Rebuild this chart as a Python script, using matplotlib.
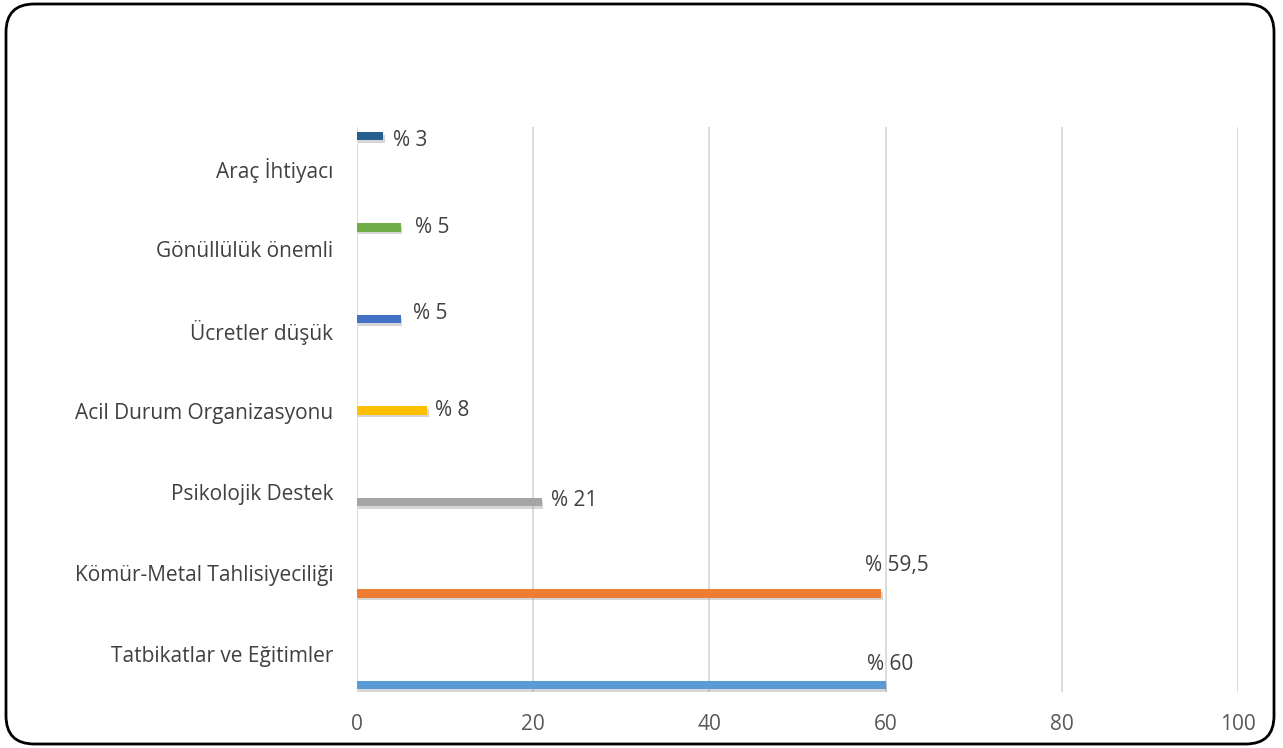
import numpy as np
import matplotlib.pyplot as plt
import matplotlib.patheffects as pe
from matplotlib.patches import FancyBboxPatch

# --- data (bottom to top) ---
categories = ["Tatbikatlar ve Eğitimler", "Kömür-Metal Tahlisiyeciliği", "Psikolojik Destek",
              "Acil Durum Organizasyonu", "Ücretler düşük", "Gönüllülük önemli", "Araç İhtiyacı"]
values = [60, 59.5, 21, 8, 5, 5, 3]
value_labels = ["% 60", "% 59,5", "% 21", "% 8", "% 5", "% 5", "% 3"]
bar_colors = ["#5B9BD5", "#ED7D31", "#A5A5A5", "#FFC000", "#4472C4", "#70AD47", "#255E91"]
x_ticks = [0, 20, 40, 60, 80, 100]

plt.rcParams['font.family'] = ['Open Sans', 'DejaVu Sans']

fig = plt.figure(figsize=(12.83, 7.48), dpi=100)

# rounded outer frame
frame = FancyBboxPatch((6 / 1283, 4 / 748), 1268 / 1283, 740 / 748,
                       boxstyle="round,pad=0,rounding_size=0.022",
                       transform=fig.transFigure, facecolor="none",
                       edgecolor="black", linewidth=2, mutation_aspect=1283 / 748, zorder=10)
fig.patches.append(frame)

ax = fig.add_axes([357 / 1283, 56 / 748, 881 / 1283, 565 / 748])
ax.set_facecolor("none")

pos = np.arange(len(categories))
shadow = [pe.SimplePatchShadow(offset=(1, -2), shadow_rgbFace="#8c8c8c", alpha=0.35), pe.Normal()]
bars = ax.barh(pos, values, height=0.09, color=bar_colors, zorder=3)
for b in bars:
    b.set_path_effects(shadow)

# label offsets (points) from the bar end, placed by hand
label_offsets = [(3.5, 15), (11.5, 20), (6.5, 1.4), (5.4, 0), (8.6, 3.6), (10, 0), (7, -3.6)]
for i, (v, lab) in enumerate(zip(values, value_labels)):
    dx, dy = label_offsets[i]
    ha = "center" if v > 50 else "left"
    ax.annotate(lab, (v, pos[i]), xytext=(dx, dy), textcoords="offset points",
                ha=ha, va="center", fontsize=15, color="#404040")

ax.set_xlim(0, 100)
ax.set_ylim(-7 / 91.5, 6 + 9 / 91.5)
ax.set_xticks(x_ticks)
ax.set_xticklabels([str(t) for t in x_ticks], fontsize=15, color="#595959")
ax.set_yticks(np.linspace(0.34, 5.65, len(categories)))
ax.set_yticklabels(categories, fontsize=15, color="#404040")
ax.tick_params(length=0, pad=17, axis="y")
ax.tick_params(length=0, pad=16, axis="x")
ax.grid(axis="x", color="#D9D9D9", linewidth=1.3, zorder=0)
for s in ax.spines.values():
    s.set_visible(False)

fig.savefig("out.png", dpi=100)
